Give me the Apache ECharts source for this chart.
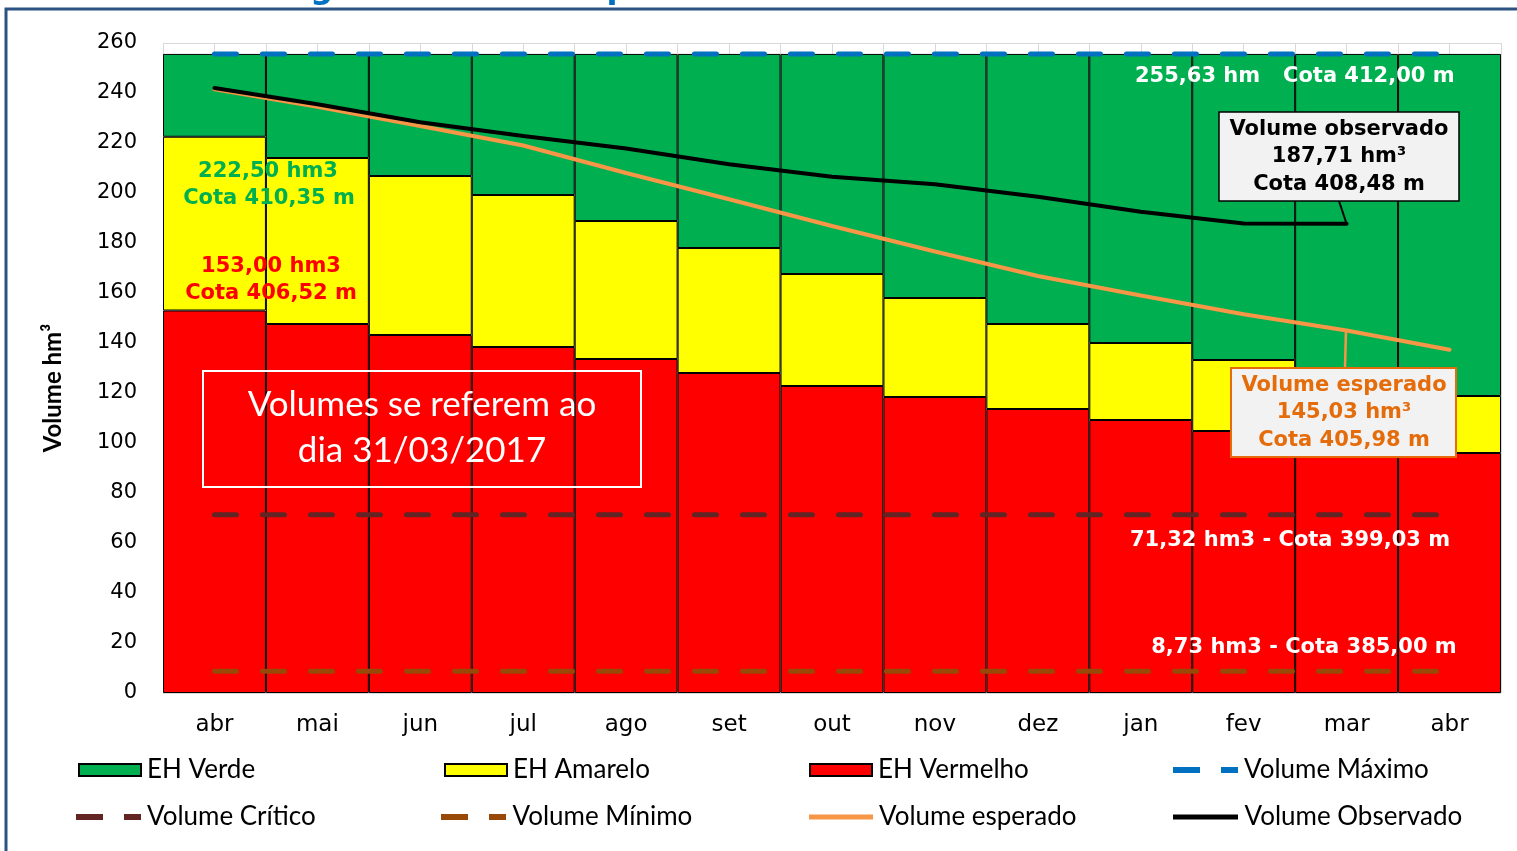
<!DOCTYPE html>
<html>
<head>
<meta charset="utf-8" />
<title>Volume esperado x observado</title>
<script src="https://cdn.jsdelivr.net/npm/echarts@6/dist/echarts.min.js"></script>
<style>
  html, body, #main { margin: 0; padding: 0; width: 100%; height: 100%; background: #fff; }
</style>
</head>
<body>
<div id="main"></div>
<script>
// meses
var meses = ['abr', 'mai', 'jun', 'jul', 'ago', 'set', 'out', 'nov', 'dez', 'jan', 'fev', 'mar', 'abr'];
// limites superiores de cada faixa (hm3)
var limiteVermelho = [153.0, 147.6, 143.2, 138.4, 133.6, 128.0, 122.8, 118.4, 113.6, 109.2, 104.8, 100.4, 96.0];
var limiteAmarelo = [222.5, 214.0, 206.8, 199.2, 188.8, 178.0, 167.6, 158.0, 147.6, 140.0, 133.2, 126.0, 118.8];
var volMaximo = 255.63;
var volCritico = 71.32;
var volMinimo = 8.73;
// curvas
var volEsperado = [241.5, 234.5, 226.8, 219.0, 208.0, 197.5, 186.8, 176.6, 166.8, 159.0, 151.5, 145.03, 137.3];
var volObservado = [242.0, 235.5, 228.3, 222.8, 217.8, 211.5, 206.5, 203.5, 198.5, 192.5, 187.8, 187.71, null];
var yTicks = [0, 260, 20];

var FONT = '"DejaVu Sans", Verdana, sans-serif';
var LFONT = 'Lato, "Open Sans", sans-serif';

var faixaVermelho = limiteVermelho.slice();
var faixaAmarelo = limiteAmarelo.map(function (v, i) { return +(v - limiteVermelho[i]).toFixed(2); });
var faixaVerde = limiteAmarelo.map(function (v) { return +(volMaximo - v).toFixed(2); });
function constante(v) { return meses.map(function () { return v; }); }

var chart = echarts.init(document.getElementById('main'));

function barra(nome, cor, dados) {
  return {
    name: nome, type: 'bar', stack: 'eh', data: dados,
    barCategoryGap: '0%',
    itemStyle: { color: cor, borderColor: '#000', borderWidth: 1 },
    emphasis: { disabled: true }
  };
}
function linha(nome, cor, dados, largura, tracejado) {
  return {
    name: nome, type: 'line', data: dados, symbol: 'none', showSymbol: false,
    lineStyle: { color: cor, width: largura, type: tracejado ? [22, 26] : 'solid', cap: 'round' },
    itemStyle: { color: cor },
    emphasis: { disabled: true }
  };
}

var ICON_TRACO = 'path://M0,0h27v6h-27z M48,0h17v6h-17z';
var ICON_LINHA = 'path://M0,0h65v5h-65z';

function leg(nome, x, y, icone, w, h) {
  return {
    data: [{ name: nome, icon: icone }], left: x, top: y, padding: 0, itemGap: 0,
    itemWidth: w, itemHeight: h, selectedMode: false,
    textStyle: { fontFamily: LFONT, fontSize: 26, color: '#000', padding: [0, 0, 0, 1] }
  };
}

function txt(s, x, y, cor, size, weight, align) {
  return {
    type: 'text', x: x, y: y, z: 100,
    style: {
      text: s, fill: cor, font: (weight || 'bold') + ' ' + (size || 21) + 'px ' + FONT,
      textAlign: align || 'center', textVerticalAlign: 'middle'
    }
  };
}

var option = {
  animation: false,
  grid: { left: 163, right: 16, top: 43, bottom: 158 },
  xAxis: [{
    type: 'category', data: meses,
    axisLine: { show: false }, axisTick: { show: false },
    axisLabel: { fontFamily: FONT, fontSize: 23, color: '#000', margin: 21 }
  }, {
    type: 'value', min: 0, max: 26, interval: 1, position: 'top',
    axisLine: { show: false }, axisTick: { show: false }, axisLabel: { show: false },
    splitLine: { show: true, lineStyle: { color: '#D9D9D9', width: 1 } }
  }],
  yAxis: {
    type: 'value', min: yTicks[0], max: yTicks[1], interval: yTicks[2],
    axisLine: { show: false }, axisTick: { show: false },
    axisLabel: { fontFamily: FONT, fontSize: 21, color: '#000', margin: 26, padding: [5, 0, 0, 0] },
    splitLine: { lineStyle: { color: '#D9D9D9', width: 1 } },
    name: 'Volume hm³', nameLocation: 'middle', nameGap: 98, nameRotate: 90,
    nameTextStyle: { fontFamily: LFONT, fontWeight: 'bold', fontSize: 24, color: '#000', padding: [0, 40, 0, 0] }
  },
  legend: [
    leg('EH Verde', 78, 757, 'rect', 62, 12), leg('EH Amarelo', 444, 757, 'rect', 62, 12),
    leg('EH Vermelho', 809, 757, 'rect', 62, 12), leg('Volume Máximo', 1173, 757, ICON_TRACO, 65, 6),
    leg('Volume Crítico', 76, 804, ICON_TRACO, 65, 6), leg('Volume Mínimo', 441, 804, ICON_TRACO, 66, 6),
    leg('Volume esperado', 809, 804, ICON_LINHA, 64, 5), leg('Volume Observado', 1173, 804, ICON_LINHA, 66, 5)
  ],
  series: [
    barra('EH Vermelho', '#FF0000', faixaVermelho),
    barra('EH Amarelo', '#FFFF00', faixaAmarelo),
    barra('EH Verde', '#00B050', faixaVerde),
    linha('Volume Máximo', '#0070C0', constante(volMaximo), 5, true),
    linha('Volume Crítico', '#632523', constante(volCritico), 5, true),
    linha('Volume Mínimo', '#984807', constante(volMinimo), 5, true),
    linha('Volume esperado', '#F79646', volEsperado, 4, false),
    linha('Volume Observado', '#000000', volObservado, 4, false)
  ],
  graphic: [
    // moldura
    { type: 'polyline', z: 100, shape: { points: [[6, 851], [6, 9], [1517, 9]] }, style: { stroke: '#2B5283', lineWidth: 3, fill: null } },
    { type: 'text', x: 45, y: 6, z: 100, style: { text: 'Estado Hidrológico - Volume Esperado x Volume Observado', fill: '#0070C0', font: 'bold 32px ' + FONT, textAlign: 'left', textVerticalAlign: 'bottom' } },
    // anotações
    txt('222,50 hm3', 268, 172, '#00B050'),
    txt('Cota 410,35 m', 269, 199, '#00B050'),
    txt('153,00 hm3', 271, 267, '#FF0000'),
    txt('Cota 406,52 m', 271, 294, '#FF0000'),
    txt('255,63 hm', 1135, 77, '#FFFFFF', 21, 'bold', 'left'),
    txt('Cota 412,00 m', 1283, 77, '#FFFFFF', 21, 'bold', 'left'),
    txt('71,32 hm3 - Cota 399,03 m', 1290, 541, '#FFFFFF'),
    txt('8,73 hm3 - Cota 385,00 m', 1304, 648, '#FFFFFF'),
    // caixa observado
    { type: 'line', z: 99, shape: { x1: 1339, y1: 201, x2: 1347, y2: 225 }, style: { stroke: '#000', lineWidth: 2 } },
    { type: 'rect', z: 100, shape: { x: 1219, y: 112, width: 240, height: 89 }, style: { fill: '#F2F2F2', stroke: '#000', lineWidth: 1.5 } },
    txt('Volume observado', 1339, 130, '#000'),
    txt('187,71 hm³', 1339, 157, '#000'),
    txt('Cota 408,48 m', 1339, 185, '#000'),
    // caixa esperado
    { type: 'line', z: 99, shape: { x1: 1346, y1: 330, x2: 1345, y2: 368 }, style: { stroke: '#F79646', lineWidth: 2.5 } },
    { type: 'rect', z: 100, shape: { x: 1231, y: 368, width: 225, height: 89 }, style: { fill: '#F2F2F2', stroke: '#E46C0A', lineWidth: 2 } },
    txt('Volume esperado', 1344, 386, '#E46C0A'),
    txt('145,03 hm³', 1344, 413, '#E46C0A'),
    txt('Cota 405,98 m', 1344, 441, '#E46C0A'),
    // caixa data
    { type: 'rect', z: 100, shape: { x: 203, y: 371, width: 438, height: 116 }, style: { fill: null, stroke: '#FFFFFF', lineWidth: 2 } },
    { type: 'text', x: 422, y: 405, z: 100, style: { text: 'Volumes se referem ao', fill: '#fff', font: '35px ' + LFONT, textAlign: 'center', textVerticalAlign: 'middle' } },
    { type: 'text', x: 422, y: 451, z: 100, style: { text: 'dia 31/03/2017', fill: '#fff', font: '35px ' + LFONT, textAlign: 'center', textVerticalAlign: 'middle' } }
  ]
};

chart.setOption(option);
</script>
</body>
</html>
